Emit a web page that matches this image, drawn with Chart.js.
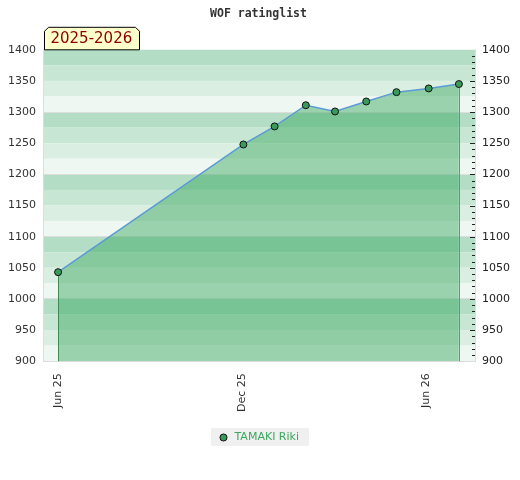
<!DOCTYPE html>
<html>
<head>
<meta charset="utf-8">
<script src="https://cdn.jsdelivr.net/npm/chart.js@4.4.1/dist/chart.umd.min.js"></script>
<style>
  html, body { margin: 0; padding: 0; background: #fff; }
</style>
</head>
<body>
<canvas id="ratingChart" width="520" height="480"></canvas>
<script>
// rating list dates and values
var ratingDates = ['2025-06-01', '2025-12-02', '2026-01-02', '2026-02-02', '2026-03-03', '2026-04-03', '2026-05-03', '2026-06-04', '2026-07-04'];
var ratingValues = [1043, 1248, 1277, 1311, 1301, 1317, 1332, 1338, 1345];

var tickDates = ['2025-06-01', '2025-12-01', '2026-06-01'];
var tickLabels = ['Jun 25', 'Dec 25', 'Jun 26'];

var playerName = 'TAMAKI Riki';
var seasonLabel = '2025-2026';
var chartTitle = 'WOF ratinglist';

function dayIndex(s) {
  var base = Date.UTC(2025, 5, 1);
  var p = s.split('-');
  return Math.round((Date.UTC(+p[0], +p[1] - 1, +p[2]) - base) / 86400000);
}

var points = ratingDates.map(function (d, i) {
  return { x: dayIndex(d), y: ratingValues[i] };
});
var tickDays = tickDates.map(dayIndex);

var stripeColors = ['#b3ddc4', '#c8e6d4', '#dbeee2', '#eff7f2'];

var stripes = {
  id: 'stripes',
  beforeDraw: function (chart) {
    var ctx = chart.ctx, a = chart.chartArea, y = chart.scales.y;
    ctx.save();
    for (var v = 1400; v > 900; v -= 25) {
      var idx = ((1400 - v) / 25) % 4;
      var top = y.getPixelForValue(v), bot = y.getPixelForValue(v - 25);
      ctx.fillStyle = stripeColors[idx];
      ctx.fillRect(a.left, top, a.right - a.left, bot - top);
    }
    // legend background
    var lg = chart.legend;
    if (lg && lg.legendHitBoxes && lg.legendHitBoxes.length) {
      var hb = lg.legendHitBoxes[0];
      ctx.fillStyle = '#f0f0f0';
      ctx.fillRect(hb.left - 7, hb.top - 4, hb.width + 17, hb.height + 7);
    }
    ctx.restore();
  },
  afterDatasetsDraw: function (chart) {
    var ctx = chart.ctx, a = chart.chartArea;
    var meta = chart.getDatasetMeta(0).data;
    var first = meta[0], last = meta[meta.length - 1];
    ctx.save();
    ctx.lineWidth = 1;
    ctx.strokeStyle = '#3d8a55';
    ctx.beginPath();
    ctx.moveTo(Math.round(first.x) + 0.5, first.y + 4);
    ctx.lineTo(Math.round(first.x) + 0.5, a.bottom);
    ctx.stroke();
    ctx.strokeStyle = '#3cb060';
    ctx.beginPath();
    ctx.moveTo(Math.round(last.x) + 0.5, last.y + 4);
    ctx.lineTo(Math.round(last.x) + 0.5, a.bottom);
    ctx.stroke();
    ctx.restore();
  },
  afterDraw: function (chart) {
    var ctx = chart.ctx, a = chart.chartArea, y = chart.scales.y;
    ctx.save();
    // minor ticks inside the right edge
    ctx.strokeStyle = '#222';
    ctx.lineWidth = 1;
    for (var v = 910; v < 1400; v += 10) {
      var len = v % 50 === 0 ? 5 : 3;
      var py = Math.round(y.getPixelForValue(v)) + 0.5;
      ctx.beginPath();
      ctx.moveTo(a.right - len, py);
      ctx.lineTo(a.right, py);
      ctx.stroke();
    }
    // season tag
    var l = a.left + 0.5, r = a.left + 95.5, t = a.top - 22.5, b = a.top, c = 4;
    ctx.beginPath();
    ctx.moveTo(l, b);
    ctx.lineTo(l, t + c);
    ctx.lineTo(l + c, t);
    ctx.lineTo(r - c, t);
    ctx.lineTo(r, t + c);
    ctx.lineTo(r, b);
    ctx.closePath();
    ctx.fillStyle = '#ffffcc';
    ctx.fill();
    ctx.strokeStyle = '#000';
    ctx.stroke();
    ctx.fillStyle = '#8b0000';
    ctx.font = '15px "DejaVu Sans"';
    ctx.textBaseline = 'middle';
    ctx.fillText(seasonLabel, l + 6, t + 12);
    ctx.restore();
  }
};

function plainTick(value) {
  return String(value);
}

var ctx = document.getElementById('ratingChart').getContext('2d');
var ratingChart = new Chart(ctx, {
  type: 'line',
  data: {
    datasets: [{
      label: playerName,
      data: points,
      fill: 'start',
      backgroundColor: 'rgba(47, 163, 86, 0.44)',
      borderColor: '#5b9bd5',
      borderWidth: 1.5,
      pointRadius: 3.5,
      pointBackgroundColor: '#3a9a5a',
      pointBorderColor: '#111',
      pointBorderWidth: 1,
      tension: 0
    }]
  },
  options: {
    responsive: false,
    animation: false,
    layout: { padding: { left: 0, right: 3, bottom: 27 } },
    plugins: {
      title: {
        display: true,
        text: chartTitle,
        color: '#333',
        font: { family: '"DejaVu Sans Mono"', size: 11.5, weight: 'bold' },
        padding: { top: 7, bottom: 29 }
      },
      legend: {
        position: 'bottom',
        labels: {
          usePointStyle: true,
          boxWidth: 11,
          boxHeight: 5,
          color: '#3aa860',
          font: { family: '"DejaVu Sans"', size: 11 },
          padding: 16
        }
      },
      tooltip: { enabled: false }
    },
    scales: {
      x: {
        type: 'linear',
        min: -14,
        max: 414,
        afterBuildTicks: function (scale) {
          scale.ticks = tickDays.map(function (v) { return { value: v }; });
        },
        ticks: {
          autoSkip: false,
          minRotation: 90,
          maxRotation: 90,
          padding: 4,
          color: '#333',
          font: { family: '"DejaVu Sans"', size: 11 },
          callback: function (value) {
            var i = tickDays.indexOf(value);
            return i >= 0 ? tickLabels[i] : '';
          }
        },
        grid: { display: false },
        border: { color: '#dddddd' }
      },
      y: {
        position: 'left',
        min: 900,
        max: 1400,
        ticks: {
          stepSize: 50,
          padding: 8,
          color: '#333',
          font: { family: '"DejaVu Sans"', size: 11 },
          callback: plainTick
        },
        grid: {
          drawTicks: false,
          color: function (c) {
            var v = c.tick.value;
            return (v % 100 === 0 && v > 900 && v < 1400) ? '#dddddd' : 'rgba(0,0,0,0)';
          }
        },
        border: { color: '#dddddd' }
      },
      y2: {
        position: 'right',
        min: 900,
        max: 1400,
        ticks: {
          stepSize: 50,
          padding: 7,
          color: '#222',
          font: { family: '"DejaVu Sans"', size: 11 },
          callback: plainTick
        },
        grid: { drawOnChartArea: false, drawTicks: false },
        border: { color: '#dddddd' }
      }
    }
  },
  plugins: [stripes]
});
</script>
</body>
</html>
